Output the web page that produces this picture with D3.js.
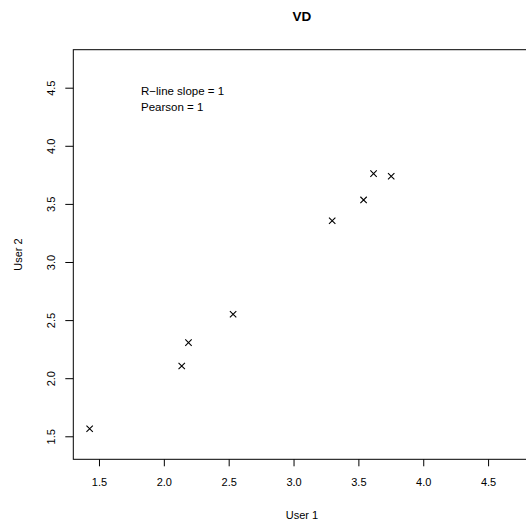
<!DOCTYPE html>
<html>
<head>
<meta charset="utf-8">
<script src="https://cdn.jsdelivr.net/npm/d3@7"></script>
<style>
  html, body { margin: 0; padding: 0; background: #fff; }
  svg { display: block; font-family: "Liberation Sans", Arial, Helvetica, sans-serif; }
</style>
</head>
<body>
<svg id="chart" width="526" height="527"></svg>
<script>
// Data
const user1 = [1.428, 2.138, 2.190, 2.534, 3.298, 3.540, 3.617, 3.753];
const user2 = [1.565, 2.105, 2.306, 2.550, 3.355, 3.534, 3.760, 3.738];
const tickValues = [1.5, 2.0, 2.5, 3.0, 3.5, 4.0, 4.5];
const axisDomain = [1.302, 4.827];
const titleText = "VD";
const xLabel = "User 1";
const yLabel = "User 2";
const annotations = ["R\u2212line slope = 1", "Pearson = 1"];

const svg = d3.select("#chart");
const plotL = 73.3, plotR = 530.5, plotT = 49.7, plotB = 459.3;

const x = d3.scaleLinear().domain(axisDomain).range([plotL, plotR]);
const y = d3.scaleLinear().domain(axisDomain).range([plotB, plotT]);

// box
svg.append("rect")
  .attr("x", plotL).attr("y", plotT)
  .attr("width", plotR - plotL).attr("height", plotB - plotT)
  .attr("fill", "none").attr("stroke", "#000").attr("stroke-width", 1);

// axes
const xAxis = d3.axisBottom(x).tickValues(tickValues).tickFormat(d3.format(".1f")).tickSize(7).tickPadding(12);
const gx = svg.append("g").attr("transform", `translate(0,${plotB})`).call(xAxis);
gx.select(".domain").remove();
gx.selectAll("text").attr("font-size", 11).attr("font-family", "Liberation Sans, Arial, sans-serif").attr("fill", "#000");

const yAxis = d3.axisLeft(y).tickValues(tickValues).tickFormat(d3.format(".1f")).tickSize(8);
const gy = svg.append("g").attr("transform", `translate(${plotL},0)`).call(yAxis);
gy.select(".domain").remove();
gy.selectAll("text")
  .attr("font-size", 11)
  .attr("font-family", "Liberation Sans, Arial, sans-serif")
  .attr("fill", "#000")
  .attr("x", null).attr("dy", null)
  .attr("text-anchor", "middle")
  .attr("transform", "translate(-18,0) rotate(-90)");

// points as crosses
const s = 3.2;
const pts = svg.append("g").attr("stroke", "#000").attr("stroke-width", 1.1);
user1.forEach((v, i) => {
  const cx = x(v), cy = y(user2[i]);
  pts.append("path").attr("d", `M${cx - s},${cy - s}L${cx + s},${cy + s}M${cx - s},${cy + s}L${cx + s},${cy - s}`);
});

// title
svg.append("text").attr("x", (plotL + plotR) / 2).attr("y", 21)
  .attr("text-anchor", "middle").attr("font-weight", "bold").attr("font-size", 13.5)
  .text(titleText);

// axis labels
svg.append("text").attr("x", (plotL + plotR) / 2).attr("y", 519)
  .attr("text-anchor", "middle").attr("font-size", 11).text(xLabel);
svg.append("text").attr("transform", `translate(22,${(plotT + plotB) / 2}) rotate(-90)`)
  .attr("text-anchor", "middle").attr("font-size", 11).text(yLabel);

// annotations
annotations.forEach((t, i) => {
  svg.append("text").attr("x", 141).attr("y", 95 + i * 15.5)
    .attr("font-size", 11.5).text(t);
});
</script>
</body>
</html>
